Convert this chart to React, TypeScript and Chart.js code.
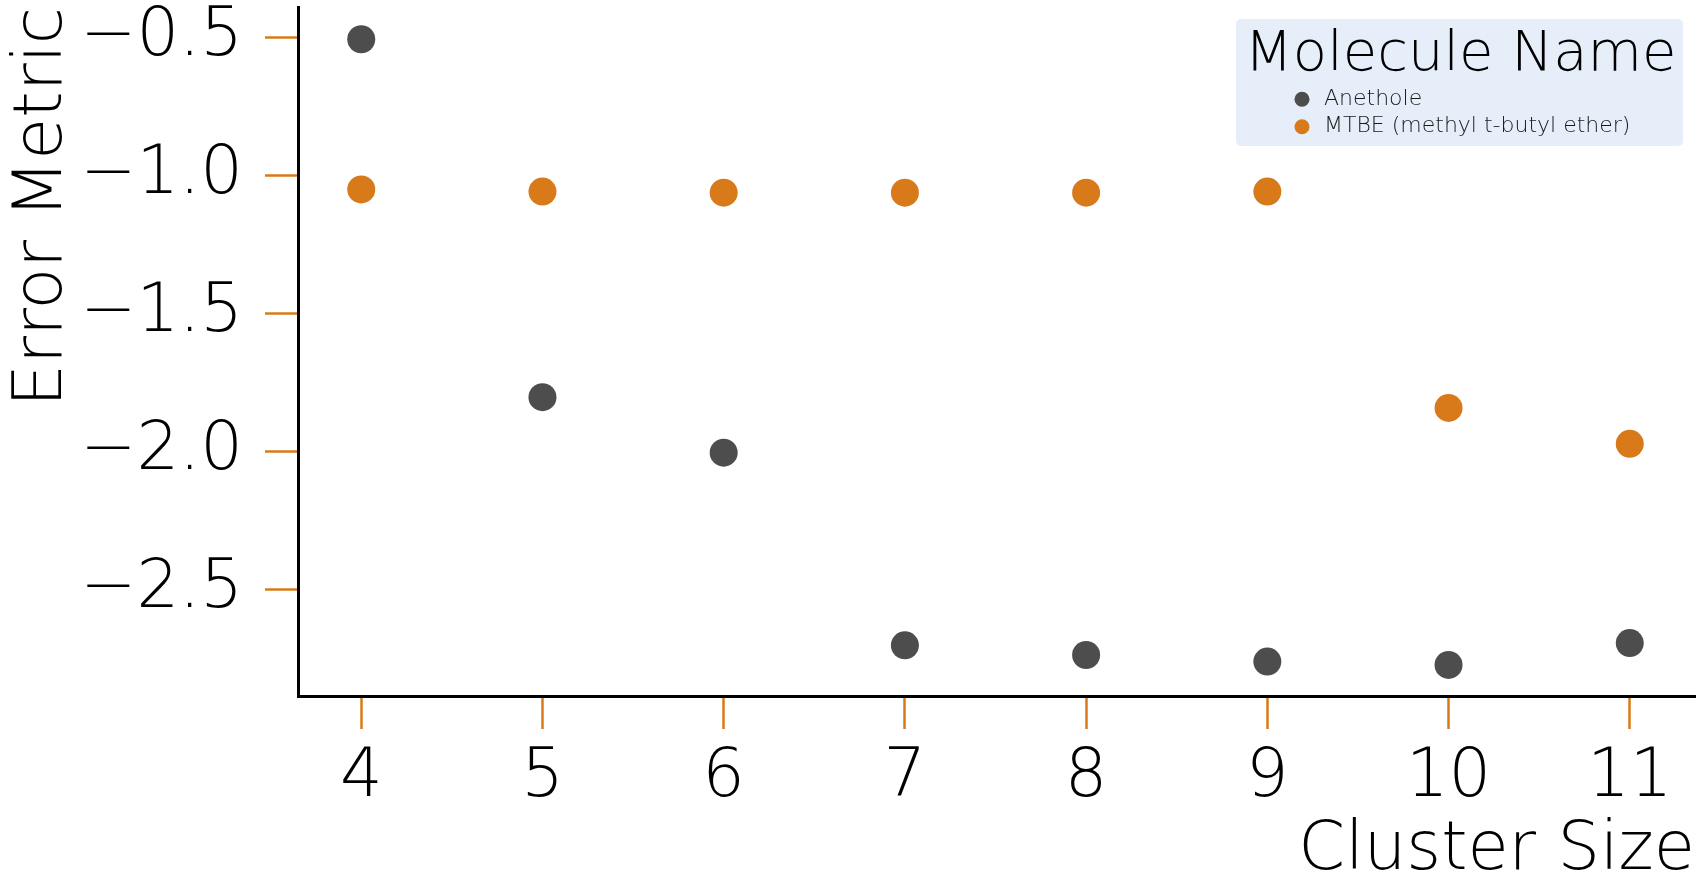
import React, { useEffect, useRef } from "react";
import { Chart, registerables } from "chart.js";

Chart.register(...registerables);

// ---- data ----
const clusterSizes = [4, 5, 6, 7, 8, 9, 10, 11];
const anetholeErrors = [-0.507, -1.804, -2.005, -2.703, -2.738, -2.762, -2.774, -2.695];
const mtbeErrors = [-1.051, -1.059, -1.063, -1.063, -1.063, -1.059, -1.843, -1.973];
const seriesNames = ["Anethole", "MTBE (methyl t-butyl ether)"];
const seriesColors = ["#4d4d4d", "#d97a1a"];
const xTickValues = [4, 5, 6, 7, 8, 9, 10, 11];
const yTickValues = [-2.5, -2.0, -1.5, -1.0, -0.5];
const legendTitle = "Molecule Name";
const xAxisTitle = "Cluster Size";
const yAxisTitle = "Error Metric";

const FAMILY = "'DejaVu Sans', 'Noto Sans', sans-serif";
const TICK_COLOR = "#d97a1a";

const fmtY = (v: number) => (v < 0 ? "\u2212" : "") + Math.abs(v).toFixed(1);

const legendPlugin = {
  id: "moleculeLegend",
  afterDraw(chart: any) {
    const ctx: CanvasRenderingContext2D = chart.ctx;
    ctx.save();
    const bx = 1236, by = 19, bw = 447, bh = 127;
    ctx.fillStyle = "#e6eef9";
    ctx.beginPath();
    if ((ctx as any).roundRect) (ctx as any).roundRect(bx, by, bw, bh, 5);
    else ctx.rect(bx, by, bw, bh);
    ctx.fill();
    ctx.fillStyle = "#000000";
    ctx.font = `200 56px ${FAMILY}`;
    ctx.textAlign = "center";
    ctx.textBaseline = "alphabetic";
    ctx.fillText(legendTitle, bx + bw / 2 + 1, 70);
    ctx.font = `200 22px ${FAMILY}`;
    ctx.textAlign = "left";
    chart.data.datasets.forEach((ds: any, i: number) => {
      const cy = 99.3 + i * 27.4;
      ctx.fillStyle = ds.backgroundColor;
      ctx.beginPath();
      ctx.arc(1302, cy, 7.5, 0, Math.PI * 2);
      ctx.fill();
      ctx.fillStyle = "#1a1a1a";
      ctx.fillText(ds.label, 1324, cy + 5.4);
    });
    ctx.restore();
  },
};

export default function App() {
  const ref = useRef<HTMLCanvasElement | null>(null);
  useEffect(() => {
    if (!ref.current) return;
    const chart = new Chart(ref.current, {
      type: "scatter",
      data: {
        datasets: [
          {
            label: seriesNames[0],
            data: clusterSizes.map((x, i) => ({ x, y: anetholeErrors[i] })),
            backgroundColor: seriesColors[0],
            borderWidth: 0,
            pointRadius: 14,
          },
          {
            label: seriesNames[1],
            data: clusterSizes.map((x, i) => ({ x, y: mtbeErrors[i] })),
            backgroundColor: seriesColors[1],
            borderWidth: 0,
            pointRadius: 14,
          },
        ],
      },
      options: {
        responsive: false,
        animation: false,
        devicePixelRatio: 1,
        layout: { autoPadding: false, padding: { top: 7, right: 11, left: 0, bottom: 0 } },
        plugins: { legend: { display: false }, tooltip: { enabled: false } },
        scales: {
          x: {
            type: "linear",
            min: 3.651,
            max: 11.36,
            afterBuildTicks: (s: any) => {
              s.ticks = xTickValues.map((v) => ({ value: v }));
            },
            afterFit: (s: any) => {
              s.height = 184;
              s.paddingLeft = 0;
              s.paddingRight = 0;
              s.paddingTop = 0;
              s.paddingBottom = 0;
            },
            grid: {
              display: true,
              drawOnChartArea: false,
              drawTicks: true,
              tickLength: 33,
              tickWidth: 2.5,
              tickColor: TICK_COLOR,
            },
            border: { display: true, color: "#000000", width: 3 },
            ticks: {
              color: "#000000",
              padding: 9,
              maxRotation: 0,
              autoSkip: false,
              font: { family: FAMILY, size: 67, weight: 200 as any },
              callback: (v: any) => String(v),
            },
            title: {
              display: true,
              text: xAxisTitle,
              align: "end",
              color: "#000000",
              padding: { top: 0, bottom: -12 },
              font: { family: FAMILY, size: 67, weight: 200 as any },
            },
          },
          y: {
            type: "linear",
            min: -2.8866,
            max: -0.3902,
            afterBuildTicks: (s: any) => {
              s.ticks = yTickValues.map((v) => ({ value: v }));
            },
            afterFit: (s: any) => {
              s.width = 298;
              s.paddingLeft = 0;
              s.paddingRight = 0;
              s.paddingTop = 0;
              s.paddingBottom = 0;
            },
            grid: {
              display: true,
              drawOnChartArea: false,
              drawTicks: true,
              tickLength: 33,
              tickWidth: 2.5,
              tickColor: TICK_COLOR,
            },
            border: { display: true, color: "#000000", width: 3 },
            ticks: {
              color: "#000000",
              padding: 22,
              autoSkip: false,
              font: { family: FAMILY, size: 67, weight: 200 as any },
              callback: (v: any) => fmtY(Number(v)),
            },
            title: {
              display: true,
              text: yAxisTitle,
              align: "end",
              color: "#000000",
              padding: { top: 3, bottom: 0 },
              font: { family: FAMILY, size: 68, weight: 200 as any },
            },
          },
        },
      },
      plugins: [legendPlugin],
    } as any);
    return () => chart.destroy();
  }, []);
  return (
    <div style={{ position: "fixed", left: 0, top: 0, width: 1706, height: 880, background: "#ffffff" }}>
      <canvas ref={ref} width={1706} height={880} style={{ width: 1706, height: 880, display: "block" }} />
    </div>
  );
}
